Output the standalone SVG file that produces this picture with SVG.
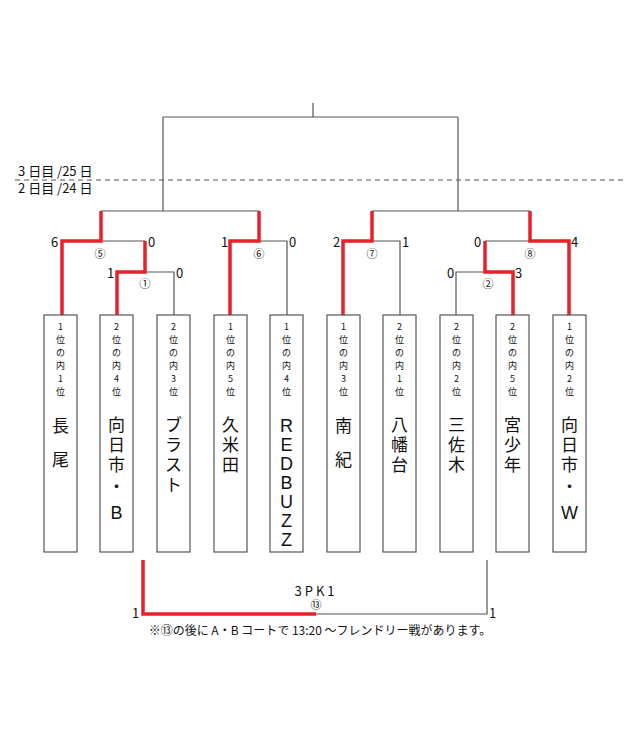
<svg xmlns="http://www.w3.org/2000/svg" width="640" height="740" viewBox="0 0 640 740">
<style>
.k{fill:none;stroke:#555;stroke-width:1.2}
.r{fill:none;stroke:#e8202a;stroke-width:3.5}
.b{fill:#fff;stroke:#555;stroke-width:1.2}
text{font-family:"Noto Sans CJK JP","Liberation Sans",sans-serif;fill:#111}
.s{font-size:13px}
.c{font-size:11px;text-anchor:middle}
.v{font-size:9px;text-anchor:middle}
.n{font-size:17px;text-anchor:middle}
.l{font-family:"Liberation Sans",sans-serif;font-size:18px}
</style>
<rect width="640" height="740" fill="#fff"/>
<g id="connectors">
<path class="k" d="M313 103V117M163 117H458M163 117V211M458 117V211"/>
<path class="k" d="M15 180H626" stroke-dasharray="5 4"/>
<path class="k" d="M101 211H259M101 241H145M145 272H174V315M259 241H287V315"/>
<path class="k" d="M372 211H530M372 241H400V315M456 315V272H485M485 241H530"/>
<path class="r" d="M62 315V241H101V211M145 241V272H117V315M230 315V241H259V211"/>
<path class="r" d="M343 315V241H372V211M485 241V272H513V315M569 315V241H530V211"/>
<path class="k" d="M316 614H487V560"/>
<path class="r" d="M143 560V614H316"/>
</g>
<g id="labels">
<text x="18" y="176" class="s">3 日目 /25 日</text>
<text x="18" y="193" class="s">2 日目 /24 日</text>
<text x="51" y="247" class="s">6</text><text x="148" y="247" class="s">0</text>
<text x="107" y="278" class="s">1</text><text x="176" y="278" class="s">0</text>
<text x="221" y="247" class="s">1</text><text x="289" y="247" class="s">0</text>
<text x="333" y="247" class="s">2</text><text x="402" y="247" class="s">1</text>
<text x="474" y="247" class="s">0</text><text x="571" y="247" class="s">4</text>
<text x="447" y="278" class="s">0</text><text x="515" y="278" class="s">3</text>
<text x="100" y="258" class="c">⑤</text><text x="259" y="258" class="c">⑥</text>
<text x="145" y="288" class="c">①</text><text x="372" y="258" class="c">⑦</text>
<text x="488" y="288" class="c">②</text><text x="530" y="258" class="c">⑧</text>
<text x="316" y="596" class="s" text-anchor="middle" letter-spacing="3">3PK1</text>
<text x="316" y="609" class="c">⑬</text>
<text x="132" y="618" class="s">1</text><text x="489" y="618" class="s">1</text>
<text x="320" y="635" font-size="12" text-anchor="middle">※⑬の後に A・B コートで 13:20 ～フレンドリー戦があります。</text>
</g>
<g id="n1"><rect class="b" x="44" y="315" width="33" height="237"/><text class="v"><tspan x="60.5" y="330">1</tspan><tspan x="60.5" y="343">位</tspan><tspan x="60.5" y="356">の</tspan><tspan x="60.5" y="369">内</tspan><tspan x="60.5" y="382">1</tspan><tspan x="60.5" y="395">位</tspan></text><text class="n"><tspan x="60.5" y="432">長</tspan><tspan x="60.5" y="466">尾</tspan></text></g>
<g id="n2"><rect class="b" x="100" y="315" width="33" height="237"/><text class="v"><tspan x="116.5" y="330">2</tspan><tspan x="116.5" y="343">位</tspan><tspan x="116.5" y="356">の</tspan><tspan x="116.5" y="369">内</tspan><tspan x="116.5" y="382">4</tspan><tspan x="116.5" y="395">位</tspan></text><text class="n"><tspan x="116.5" y="431">向</tspan><tspan x="116.5" y="451">日</tspan><tspan x="116.5" y="471">市</tspan><tspan x="116.5" y="493">・</tspan></text><text class="n l" x="116.5" y="519">B</text></g>
<g id="n3"><rect class="b" x="157" y="315" width="33" height="237"/><text class="v"><tspan x="173.5" y="330">2</tspan><tspan x="173.5" y="343">位</tspan><tspan x="173.5" y="356">の</tspan><tspan x="173.5" y="369">内</tspan><tspan x="173.5" y="382">3</tspan><tspan x="173.5" y="395">位</tspan></text><text class="n"><tspan x="173.5" y="431">ブ</tspan><tspan x="173.5" y="451">ラ</tspan><tspan x="173.5" y="471">ス</tspan><tspan x="173.5" y="491">ト</tspan></text></g>
<g id="n4"><rect class="b" x="214" y="315" width="33" height="237"/><text class="v"><tspan x="230.5" y="330">1</tspan><tspan x="230.5" y="343">位</tspan><tspan x="230.5" y="356">の</tspan><tspan x="230.5" y="369">内</tspan><tspan x="230.5" y="382">5</tspan><tspan x="230.5" y="395">位</tspan></text><text class="n"><tspan x="230.5" y="431">久</tspan><tspan x="230.5" y="451">米</tspan><tspan x="230.5" y="471">田</tspan></text></g>
<g id="n5"><rect class="b" x="270" y="315" width="33" height="237"/><text class="v"><tspan x="286.5" y="330">1</tspan><tspan x="286.5" y="343">位</tspan><tspan x="286.5" y="356">の</tspan><tspan x="286.5" y="369">内</tspan><tspan x="286.5" y="382">4</tspan><tspan x="286.5" y="395">位</tspan></text><text class="n l"><tspan x="286.5" y="432">R</tspan><tspan x="286.5" y="451">E</tspan><tspan x="286.5" y="470">D</tspan><tspan x="286.5" y="489">B</tspan><tspan x="286.5" y="508">U</tspan><tspan x="286.5" y="527">Z</tspan><tspan x="286.5" y="546">Z</tspan></text></g>
<g id="n6"><rect class="b" x="327" y="315" width="33" height="237"/><text class="v"><tspan x="343.5" y="330">1</tspan><tspan x="343.5" y="343">位</tspan><tspan x="343.5" y="356">の</tspan><tspan x="343.5" y="369">内</tspan><tspan x="343.5" y="382">3</tspan><tspan x="343.5" y="395">位</tspan></text><text class="n"><tspan x="343.5" y="432">南</tspan><tspan x="343.5" y="466">紀</tspan></text></g>
<g id="n7"><rect class="b" x="383" y="315" width="33" height="237"/><text class="v"><tspan x="399.5" y="330">2</tspan><tspan x="399.5" y="343">位</tspan><tspan x="399.5" y="356">の</tspan><tspan x="399.5" y="369">内</tspan><tspan x="399.5" y="382">1</tspan><tspan x="399.5" y="395">位</tspan></text><text class="n"><tspan x="399.5" y="431">八</tspan><tspan x="399.5" y="451">幡</tspan><tspan x="399.5" y="471">台</tspan></text></g>
<g id="n8"><rect class="b" x="440" y="315" width="33" height="237"/><text class="v"><tspan x="456.5" y="330">2</tspan><tspan x="456.5" y="343">位</tspan><tspan x="456.5" y="356">の</tspan><tspan x="456.5" y="369">内</tspan><tspan x="456.5" y="382">2</tspan><tspan x="456.5" y="395">位</tspan></text><text class="n"><tspan x="456.5" y="431">三</tspan><tspan x="456.5" y="451">佐</tspan><tspan x="456.5" y="471">木</tspan></text></g>
<g id="n9"><rect class="b" x="496" y="315" width="33" height="237"/><text class="v"><tspan x="512.5" y="330">2</tspan><tspan x="512.5" y="343">位</tspan><tspan x="512.5" y="356">の</tspan><tspan x="512.5" y="369">内</tspan><tspan x="512.5" y="382">5</tspan><tspan x="512.5" y="395">位</tspan></text><text class="n"><tspan x="512.5" y="431">宮</tspan><tspan x="512.5" y="451">少</tspan><tspan x="512.5" y="471">年</tspan></text></g>
<g id="n10"><rect class="b" x="553" y="315" width="33" height="237"/><text class="v"><tspan x="569.5" y="330">1</tspan><tspan x="569.5" y="343">位</tspan><tspan x="569.5" y="356">の</tspan><tspan x="569.5" y="369">内</tspan><tspan x="569.5" y="382">2</tspan><tspan x="569.5" y="395">位</tspan></text><text class="n"><tspan x="569.5" y="431">向</tspan><tspan x="569.5" y="451">日</tspan><tspan x="569.5" y="471">市</tspan><tspan x="569.5" y="493">・</tspan></text><text class="n l" x="569.5" y="519">W</text></g>
</svg>
